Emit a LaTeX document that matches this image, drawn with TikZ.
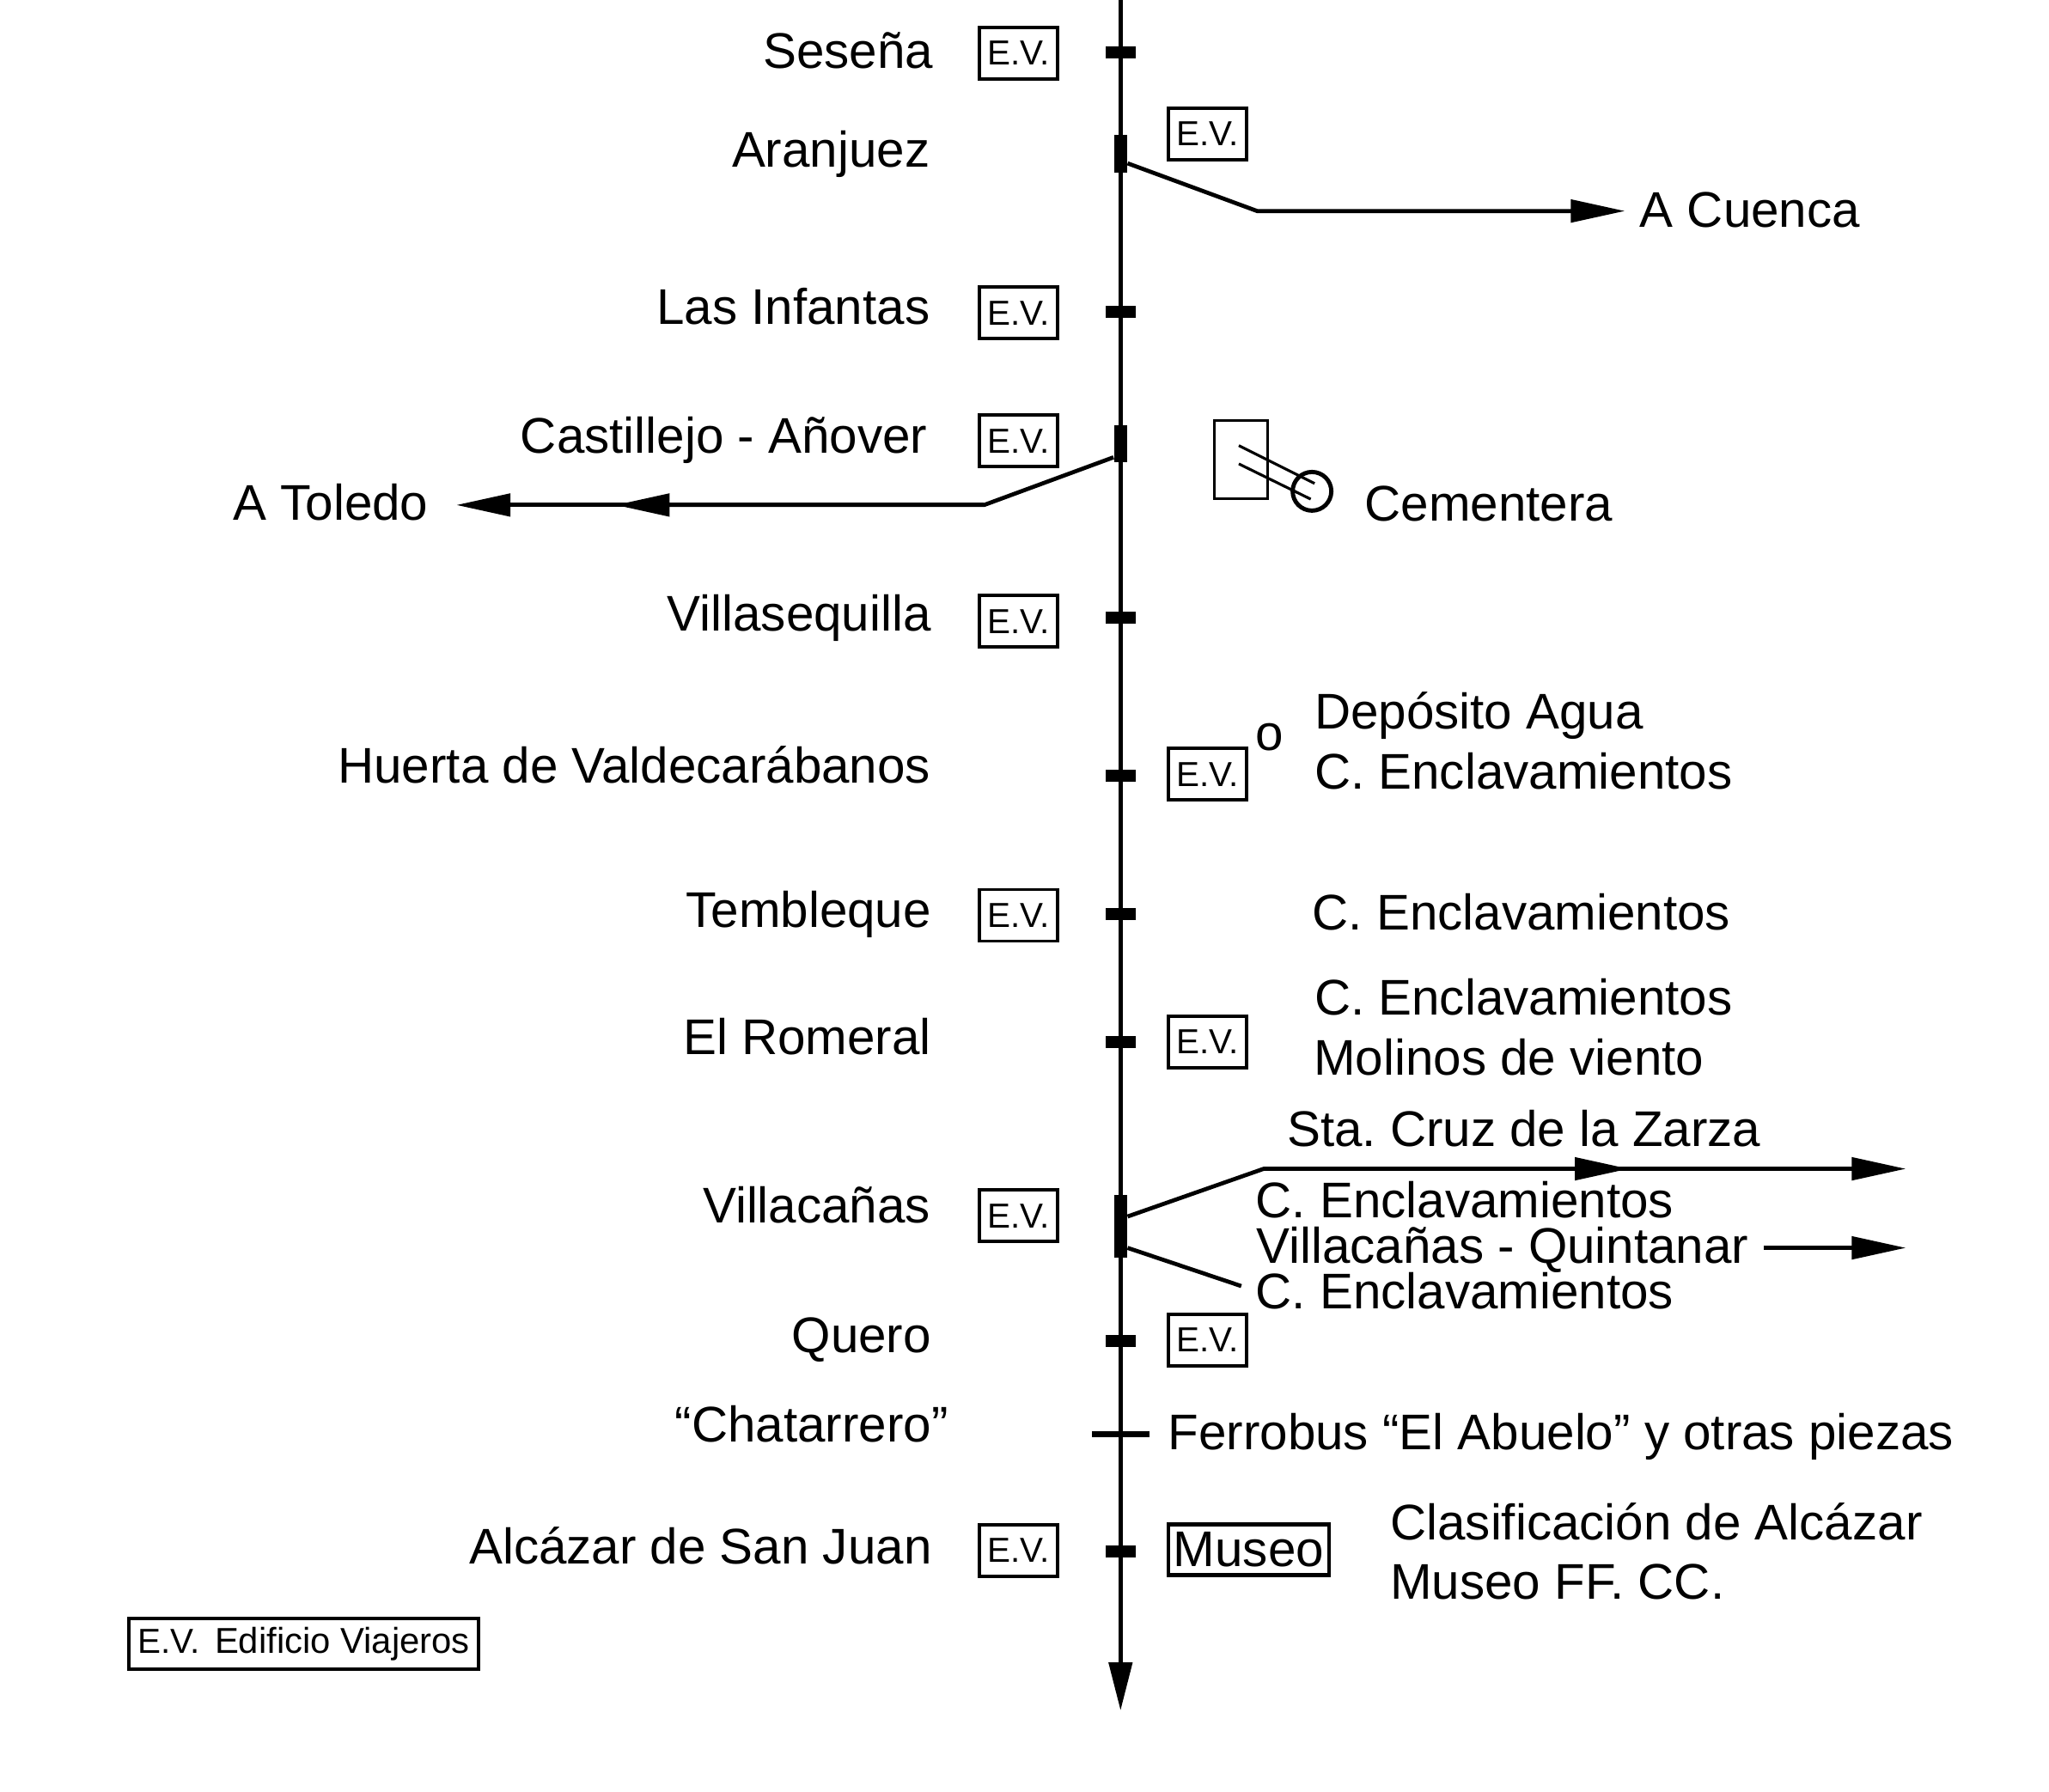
\documentclass[tikz,border=0pt]{standalone}
\usepackage{fontspec}
\setmainfont{Liberation Sans}
\usetikzlibrary{arrows.meta}
\frenchspacing

\begin{document}
\begin{tikzpicture}[x=0.01521cm,y=-0.015215cm,
      >={Triangle[length=6.3mm,width=2.6mm]},
      lab/.style={inner sep=0pt,font=\fontsize{16.6}{20}\selectfont},
      evbox/.style={draw,line width=1.1pt,minimum width=0.91cm,minimum height=0.6cm,inner sep=0pt,
                    font=\fontsize{11.5}{14}\selectfont},
      halt/.style={fill=black,inner sep=0pt,minimum width=0.35cm,minimum height=0.14cm},
      junction/.style={fill=black,inner sep=0pt,minimum width=0.15cm},
      rail/.style={line width=1.35pt},
      thinline/.style={line width=0.9pt}]
    \useasboundingbox (0,0) rectangle (1568,1371);
    \coordinate (top) at (857.5,0);
    \coordinate (bottom) at (857.5,1309);
    \draw[rail,-{Triangle[length=5.6mm,width=2.7mm]}] (top) -- (bottom);
    % stations on the line
    \foreach \n/\y in {sesena/40,infantas/238.5,villaseq/472.5,huerta/593.5,tembleque/699.5,romeral/797.5,quero/1026.5,alcazar/1187.5}
      \node[halt] (\n) at (857.5,\y) {};
    \node[junction,minimum height=0.44cm] (aranjuez) at (857.5,118) {};
    \node[junction,minimum height=0.43cm] (castillejo) at (857.5,339.5) {};
    \node[junction,minimum height=0.73cm] (villacanas) at (857.5,938.5) {};
    \node[fill=black,inner sep=0pt,minimum width=0.67cm,minimum height=0.07cm] (chatarrero) at (857.5,1097.5) {};
    % names left of the line
    \foreach \n/\x/\y/\t in {lsesena/714.5/52/Seseña,laranjuez/712/128/Aranjuez,linfantas/712/248/Las Infantas,
        lcastillejo/710/347/Castillejo - Añover,lvillaseq/713/483/Villasequilla,lhuerta/712.5/599/Huerta de Valdecarábanos,
        ltembleque/713/710/Tembleque,lromeral/713/807/El Romeral,lvillacanas/712.5/936/Villacañas,lquero/713/1035/Quero,
        lchatarrero/726/1103.5/“Chatarrero”,lalcazar/713.5/1197/Alcázar de San Juan}
      \node[lab,anchor=base east] (\n) at (\x,\y) {\t};
    % E.V. boxes
    \foreach \n/\y in {e1/40.5,e2/239.5,e3/337.5,e4/475.5,e5/700.5,e6/930.5,e7/1186.5}
      \node[evbox] (\n) at (779.5,\y) {E.V.};
    \foreach \n/\y in {e8/102.5,e9/592.5,e10/797.5,e11/1025.5}
      \node[evbox] (\n) at (924,\y) {E.V.};
    % texts right of the line
    \foreach \n/\x/\y/\t in {cuenca/1254.5/174/A Cuenca,cementera/1044/399/Cementera,deposito/1005.5/558/Depósito Agua,
        dot/960.5/574/o,enc1/1005.5/604/C. Enclavamientos,enc2/1004/712/C. Enclavamientos,enc3/1005.5/777/C. Enclavamientos,
        molinos/1005/823/Molinos de viento,stacruz/984.5/877.5/Sta. Cruz de la Zarza,enc4/960.5/932/C. Enclavamientos,
        quintanar/961/967/Villacañas - Quintanar,enc5/960.5/1001.5/C. Enclavamientos,
        ferrobus/893.5/1109.5/Ferrobus “El Abuelo” y otras piezas,clasif/1063.5/1178.5/Clasificación de Alcázar,
        museoff/1063.5/1224/Museo FF. CC.,toledo/178/398/A Toledo}
      \node[lab,anchor=base west] (\n) at (\x,\y) {\t};
    \node[draw,line width=1.2pt,minimum width=1.87cm,minimum height=0.59cm,lab,inner sep=0pt] (museo) at (955.5,1186) {Museo};
    \node[draw,line width=1.3pt,minimum width=4.07cm,minimum height=0.59cm,inner sep=0pt] (legend) at (232.5,1258)
      {\fontsize{11.5}{14}\selectfont E.V.\hspace{0.17cm}\fontsize{11.9}{14}\selectfont Edificio Viajeros};
    % branches
    \coordinate (cuencabend) at (962,161.5);
    \coordinate (cuencaend) at (1243.5,161.5);
    \draw[rail,->] ([shift={(0,7)}]aranjuez.east) -- (cuencabend) -- (cuencaend);
    \coordinate (toledobend) at (753,386.5);
    \coordinate (toledomid) at (471,386.5);
    \draw[rail,->] ([shift={(0,10.5)}]castillejo.west) -- (toledobend) -- (toledomid);
    \draw[rail,->,shorten >=0.32cm] (toledobend) -- (toledomid -| toledo.east);
    \coordinate (zarzabend) at (967,894.5);
    \coordinate (zarzamid) at (1246.5,894.5);
    \coordinate (zarzaend) at (1458.5,894.5);
    \draw[rail,->] ([shift={(0,-7.5)}]villacanas.east) -- (zarzabend) -- (zarzamid);
    \draw[rail,->] (zarzabend) -- (zarzaend);
    \coordinate (quintanarend) at (1458.5,955);
    \draw[rail,->,shorten <=0.17cm] (quintanarend -| quintanar.east) -- (quintanarend);
    \draw[rail,shorten >=0.17cm] ([shift={(0,16.5)}]villacanas.east) -- (enc5.west);
    % cement works
    \node[draw,thinline,inner sep=0pt,minimum width=0.62cm,minimum height=0.91cm] (works) at (949.5,352) {};
    \node[draw,circle,line width=1.4pt,inner sep=0pt,minimum size=0.45cm] (kiln) at (1004,376) {};
    \coordinate (h1) at (948,341);
    \coordinate (h2) at (948,355);
    \draw[thinline] (h1) -- ([shift={(2,-6)}]kiln.center);
    \draw[thinline] (h2) -- ([shift={(-1,6)}]kiln.center);
  \end{tikzpicture}
\end{document}
